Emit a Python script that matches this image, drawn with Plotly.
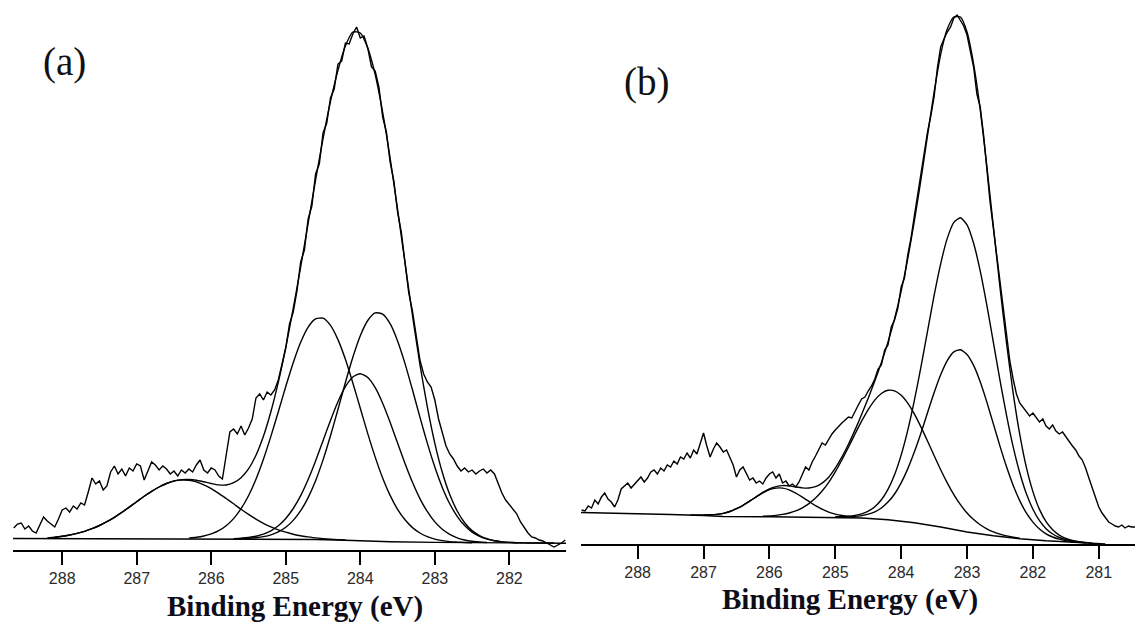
import numpy as np
import plotly.graph_objects as go

# ---------------- Panel (a) data (intensity in arbitrary units) ----------------
A_RAW_START, A_RAW_STEP = 288.65, 0.05
a_raw = [
    22, 26, 27, 21, 24, 19, 17, 25, 33, 29, 26, 23, 31, 40,
    42, 38, 44, 41, 47, 45, 58, 72, 66, 69, 60, 64, 78, 84, 76, 81, 74, 82, 79, 86,
    84, 70, 79, 88, 85, 80, 84, 81, 76, 79, 74, 80, 77, 81, 78, 85, 90, 80, 77, 82,
    80, 74, 71, 96, 118, 121, 116, 124, 115, 122, 131, 152, 156, 150, 158, 155, 160, 170, 185,
    202, 226, 238, 259, 288, 300, 331, 344, 376, 386, 417, 427, 452, 461, 486, 489, 507, 506,
    516, 523, 512, 514, 502, 483, 479, 463, 433, 418, 388, 369, 338, 318, 290, 257, 239, 212,
    190, 176, 168, 163, 150, 131, 118, 104, 96, 91, 84, 79, 82, 78, 80, 76, 79, 81, 77, 80,
    76, 66, 57, 50, 45, 40, 36, 28, 22, 17, 13, 12, 10, 9, 7, 5, 3, 5, 7, 10,
]
A_FIT_STEP = 0.1
A_ENV_START = 288.2
a_envelope = [
    12.0, 12.7, 13.7, 15.0, 16.6, 18.7, 21.3, 24.5, 28.3, 32.7, 37.6, 42.9, 48.3, 53.7, 58.7,
    63.0, 66.5, 69.1, 70.4, 70.6, 69.8, 68.2, 66.5, 65.1, 65.0, 67.3, 72.3, 81.1, 94.7, 113.7,
    138.2, 167.8, 202.6, 241.6, 283.2, 326.7, 370.0, 411.4, 448.6, 479.6, 504.0, 518.0, 517.0,
    502.0, 475.5, 437.7, 392.0, 340.6, 287.1, 234.5, 185.7, 142.8, 106.7, 77.7, 55.4, 39.0,
    27.3, 19.4, 14.5, 11.3, 9.2, 8.1, 7.6, 7.3, 7.1, 7.0, 7.0, 7.0, 7.0,
]
A_C1_START = 288.1
a_c1 = [
    12.7, 13.7, 15.0, 16.6, 18.7, 21.3, 24.5, 28.3, 32.7, 37.6, 42.9, 48.3, 53.7, 58.7, 63.0,
    66.5, 68.9, 69.9, 69.7, 68.1, 65.2, 61.4, 56.7, 51.5, 46.2, 40.7, 35.6, 30.9, 26.7, 23.2,
    20.1, 17.8, 15.8, 14.2, 13.1, 12.1, 11.4, 10.8, 10.4, 10.0,
]
A_C2_START = 286.3
a_c2 = [
    11.9, 12.7, 14.0, 16.1, 19.3, 24.3, 31.4, 41.3, 54.3, 70.8, 90.8, 113.6, 138.3, 163.5,
    187.3, 207.7, 222.9, 231.1, 231.8, 224.6, 210.4, 190.7, 167.0, 141.7, 116.4, 92.9, 72.0,
    54.6, 40.7, 30.2, 22.4, 17.0, 13.3, 10.9, 9.4, 8.4, 7.9, 7.5, 7.2,
]
A_C3_START = 285.6
a_c3 = [
    11.5, 11.7, 12.3, 13.4, 15.2, 18.2, 22.8, 29.6, 39.3, 52.4, 69.3, 90.1, 114.2, 140.5,
    167.5, 192.8, 214.3, 229.5, 237.1, 235.9, 226.3, 209.1, 186.4, 160.2, 132.9, 106.6, 82.9,
    62.6, 46.2, 33.7, 24.4, 17.9, 13.7, 10.9, 9.2, 8.1, 7.6, 7.3,
]
A_C4_START = 285.7
a_c4 = [
    11.4, 11.8, 12.5, 13.7, 15.8, 19.2, 24.2, 31.5, 41.5, 54.4, 70.5, 89.0, 109.3, 129.6,
    148.3, 163.4, 173.0, 176.3, 172.5, 162.4, 146.8, 127.7, 107.0, 86.5, 67.7, 51.4, 38.3,
    28.1, 20.7, 15.6, 12.2, 10.0, 8.7, 8.0, 7.5,
]
a_bg_energy = [288.66, 287.0, 285.0, 284.6, 284.2, 284.0, 283.6, 283.0, 282.0, 281.24]
a_bg = [11.5, 11.3, 11.0, 10.5, 9.8, 9.3, 8.3, 7.6, 7.0, 6.8]

# ---------------- Panel (b) data ----------------
B_RAW_START, B_RAW_STEP = 288.85, 0.05
b_raw = [
    34, 33, 38, 36, 44, 40, 47, 51, 45, 42, 37, 44, 55, 58, 61, 56, 60, 63,
    67, 62, 66, 72, 74, 70, 76, 73, 79, 77, 83, 80, 87, 85, 91, 86, 94, 90, 100, 111,
    98, 87, 95, 101, 97, 92, 94, 86, 79, 67, 74, 77, 70, 64, 66, 61, 63, 60, 66, 70,
    72, 66, 70, 61, 63, 58, 60, 57, 62, 70, 77, 74, 82, 88, 94, 101, 99, 105, 110, 114,
    118, 121, 124, 127, 126, 133, 139, 145, 147, 153, 158, 165,
    175, 179, 194, 199, 217, 224, 236, 257, 266, 289, 306, 328, 350, 372, 393, 412, 428, 447,
    476, 497, 505, 512, 517, 526, 529, 524, 518, 509, 494, 477, 450, 437, 410, 373, 342, 316,
    290, 262, 236, 210, 183, 165, 150, 141, 137, 133, 128, 131, 127, 122, 125, 118, 115, 119,
    113, 110, 112, 107, 103, 98, 94, 88, 84, 76, 66, 57, 46, 37, 31, 26, 22, 20, 18, 17, 19,
    16, 18, 17, 17,
]
B_FIT_STEP = 0.1
B_ENV_START = 287.2
b_envelope = [
    29.1, 29.0, 29.0, 29.2, 29.6, 30.6, 32.5, 35.3, 38.7, 42.9, 47.1, 51.6, 55.2, 57.4, 58.4,
    58.1, 57.0, 56.1, 56.0, 57.3, 60.9, 66.8, 75.8, 86.8, 99.7, 114.1, 129.5, 145.8, 163.0,
    181.4, 201.9, 225.2, 252.8, 285.2, 322.8, 364.1, 408.3, 451.6, 489.7, 515.0, 527.0, 527.0,
    512.0, 480.0, 434.6, 378.3, 317.4, 256.9, 200.8, 151.1, 109.8, 76.8, 52.4, 34.6, 22.3,
    14.2, 8.9, 5.6, 3.5, 2.3, 1.5, 0.8,
]
B_C1_START = 287.0
b_c1 = [
    29.0, 29.2, 29.6, 30.6, 32.5, 35.3, 38.7, 42.9, 47.1, 51.1, 54.3, 55.9, 55.9, 54.2, 50.9,
    46.9, 42.6, 38.3, 34.8, 31.9, 29.9, 28.5, 27.5, 26.8,
]
B_C2_START = 286.1
b_c2 = [
    27.7, 28.1, 28.6, 29.6, 31.0, 33.1, 36.2, 40.4, 45.9, 53.0, 61.7, 72.2, 84.0, 96.8, 110.0,
    122.8, 134.4, 143.9, 150.5, 153.7, 153.1, 148.8, 140.9, 130.1, 117.1, 103.0, 88.5, 74.3,
    61.2, 49.4, 39.3, 31.0, 24.4, 19.2, 15.2, 12.1, 9.9, 8.1, 6.8, 5.8,
]
B_C3_START = 285.0
b_c3 = [
    27.1, 27.3, 27.7, 28.6, 30.1, 32.8, 37.3, 44.3, 54.7, 69.3, 88.9, 113.6, 143.4, 176.8,
    212.7, 248.3, 280.2, 305.6, 321.6, 326.2, 319.1, 300.8, 273.2, 239.2, 201.6, 163.9, 128.7,
    97.3, 71.2, 50.4, 34.7, 23.3, 15.3, 10.0, 6.5, 4.3, 2.8, 1.9, 1.3,
]
B_C4_START = 285.0
b_c4 = [
    27.0, 27.1, 27.2, 27.6, 28.4, 29.8, 32.2, 36.0, 41.9, 50.0, 61.1, 75.1, 91.9, 110.8, 131.2,
    151.2, 169.2, 183.4, 192.1, 194.2, 189.6, 178.6, 162.2, 142.1, 120.1, 97.9, 77.2, 58.8,
    43.4, 31.1, 21.9, 15.0, 10.2, 7.0, 4.8, 3.3, 2.3, 1.7, 1.2,
]
b_bg_energy = [288.86, 288.0, 287.5, 287.0, 286.7, 286.0, 285.0, 284.6, 284.2, 283.8, 283.4,
               283.0, 282.6, 282.2, 281.8, 281.4, 281.0, 280.9]
b_bg = [31.5, 30.5, 29.5, 28.5, 27.5, 27.2, 26.8, 26.0, 24.2, 21.3, 17.0, 12.0, 8.2, 5.3,
        3.2, 1.6, 0.5, 0.0]

a_ticks = [288, 287, 286, 285, 284, 283, 282]
b_ticks = [288, 287, 286, 285, 284, 283, 282, 281]
x_title = "Binding Energy (eV)"


def grid(start, step, n):
    return np.round(start - step * np.arange(n), 3)


fig = go.Figure()
LINE = dict(color="#000000", width=1.4)


def add(x, y, xa, ya, smooth=False):
    fig.add_trace(go.Scatter(
        x=x, y=y, mode="lines", xaxis=xa, yaxis=ya, showlegend=False, hoverinfo="skip",
        line=dict(LINE, shape="spline" if smooth else "linear", smoothing=0.6 if smooth else None),
    ))


# panel (a)
add(a_bg_energy, a_bg, "x", "y")
for st, vals in [(A_C1_START, a_c1), (A_C2_START, a_c2), (A_C3_START, a_c3), (A_C4_START, a_c4)]:
    add(grid(st, A_FIT_STEP, len(vals)), vals, "x", "y", smooth=True)
add(grid(A_ENV_START, A_FIT_STEP, len(a_envelope)), a_envelope, "x", "y", smooth=True)
add(grid(A_RAW_START, A_RAW_STEP, len(a_raw)), a_raw, "x", "y")

# panel (b)
add(b_bg_energy, b_bg, "x2", "y2")
for st, vals in [(B_C1_START, b_c1), (B_C2_START, b_c2), (B_C3_START, b_c3), (B_C4_START, b_c4)]:
    add(grid(st, B_FIT_STEP, len(vals)), vals, "x2", "y2", smooth=True)
add(grid(B_ENV_START, B_FIT_STEP, len(b_envelope)), b_envelope, "x2", "y2", smooth=True)
add(grid(B_RAW_START, B_RAW_STEP, len(b_raw)), b_raw, "x2", "y2")

W, H = 1135, 623
xcommon = dict(
    showline=True, linecolor="#000000", linewidth=2, mirror=False,
    ticks="outside", ticklen=13, tickwidth=2, tickcolor="#000000",
    showgrid=False, zeroline=False, fixedrange=True,
    tickfont=dict(family="Liberation Sans, Arial, sans-serif", size=16, color="#2a2a2a"),
)
ycommon = dict(visible=False, showgrid=False, zeroline=False, fixedrange=True)

fig.update_layout(
    width=W, height=H,
    margin=dict(l=0, r=0, t=0, b=0),
    paper_bgcolor="#ffffff", plot_bgcolor="#ffffff",
    xaxis=dict(xcommon, domain=[13 / W, 566 / W], range=[288.66, 281.24],
               tickvals=a_ticks, ticktext=[str(t) for t in a_ticks], anchor="y"),
    yaxis=dict(ycommon, domain=[73 / H, 1.0], range=[0, 550], anchor="x"),
    xaxis2=dict(xcommon, domain=[581 / W, 1.0], range=[288.86, 280.45],
                tickvals=b_ticks, ticktext=[str(t) for t in b_ticks], anchor="y2"),
    yaxis2=dict(ycommon, domain=[79 / H, 1.0], range=[0, 544], anchor="x2"),
    annotations=[
        dict(text="(a)", x=64.5 / W, y=1 - 62.5 / H, xref="paper", yref="paper",
             xanchor="center", yanchor="middle", showarrow=False,
             font=dict(family="Liberation Serif, Times New Roman, serif", size=39, color="#111111")),
        dict(text="(b)", x=646.5 / W, y=1 - 82 / H, xref="paper", yref="paper",
             xanchor="center", yanchor="middle", showarrow=False,
             font=dict(family="Liberation Serif, Times New Roman, serif", size=39, color="#111111")),
        dict(text="<b>" + x_title + "</b>", x=295 / W, y=1 - 606 / H, xref="paper", yref="paper",
             xanchor="center", yanchor="middle", showarrow=False,
             font=dict(family="Liberation Serif, Times New Roman, serif", size=29, color="#0d0d1a")),
        dict(text="<b>" + x_title + "</b>", x=850 / W, y=1 - 599 / H, xref="paper", yref="paper",
             xanchor="center", yanchor="middle", showarrow=False,
             font=dict(family="Liberation Serif, Times New Roman, serif", size=29, color="#0d0d1a")),
    ],
)

fig.write_html("out.html")
